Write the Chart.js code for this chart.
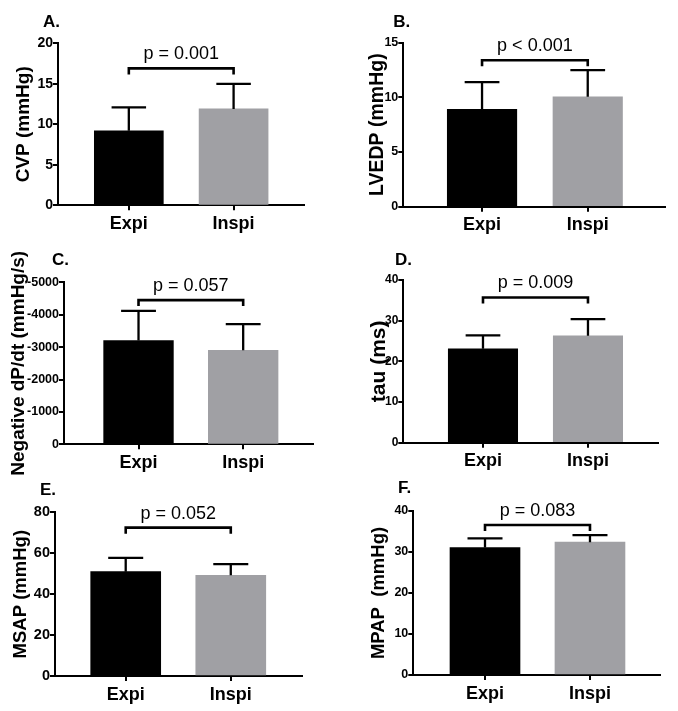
<!DOCTYPE html>
<html><head><meta charset="utf-8">
<script src="https://cdn.jsdelivr.net/npm/chart.js@4.4.1/dist/chart.umd.min.js"></script>
<style>
html,body{margin:0;padding:0;background:#fff;}
#wrap{position:relative;width:678px;height:711px;overflow:hidden;background:#fff;}
.panel{position:absolute;}
</style></head><body><div id="wrap"></div>
<script>
// ---- data ----
const categories = ['Expi', 'Inspi'];
const panelLetters = ['A.', 'B.', 'C.', 'D.', 'E.', 'F.'];
const yTitles = ['CVP (mmHg)', 'LVEDP (mmHg)', 'Negative dP/dt (mmHg/s)', 'tau (ms)', 'MSAP (mmHg)', 'MPAP  (mmHg)'];
const expiMeans  = [9.2, 8.9, -3200, 23.1, 51.0, 31.1];
const inspiMeans = [11.9, 10.05, -2900, 26.3, 49.2, 32.4];
const expiSD  = [2.9, 2.5, 920, 3.3, 6.7, 2.2];
const inspiSD = [3.1, 2.45, 810, 4.1, 5.5, 1.7];
const pLabels = ['p = 0.001', 'p < 0.001', 'p = 0.057', 'p = 0.009', 'p = 0.052', 'p = 0.083'];
const bracketLevels = [16.9, 13.4, -4450, 35.7, 72.5, 36.6];
const yMin  = [0, 0, -5000, 0, 0, 0];
const yMax  = [20, 15, 0, 40, 80, 40];
const yStep = [5, 5, 1000, 10, 20, 10];

// ---- layout / style ----
const FONT = "'Liberation Sans', Arial, Helvetica, sans-serif";
const barColors = ['#000000', '#a0a0a4'];
const layouts = [
  {x:0,   y:0,   w:340, h:240, left:58,   right:304,   top:43.3, bottom:205.3, xMin:-0.676, xMax:1.672, bar:69,   titleX:24,   titleSize:19,   tickSize:14,   letterX:43,   letterY:26.7},
  {x:340, y:0,   w:338, h:240, left:63.3, right:325,   top:42.7, bottom:206.7, xMin:-0.745, xMax:1.731, bar:69.5, titleX:38,   titleSize:19.5, tickSize:12.5, letterX:53.3, letterY:26.7},
  {x:0,   y:240, w:340, h:235, left:64,   right:313.3, top:42.3, bottom:204.3, xMin:-0.712, xMax:1.670, bar:69.7, titleX:19,   titleSize:19,   tickSize:12.5, letterX:52,   letterY:25},
  {x:340, y:240, w:338, h:235, left:63.3, right:318,   top:40,   bottom:202.7, xMin:-0.759, xMax:1.667, bar:69.4, titleX:39.6, titleSize:21,   tickSize:12,   letterX:55,   letterY:25},
  {x:0,   y:475, w:340, h:236, left:55,   right:301.7, top:37.3, bottom:201,   xMin:-0.673, xMax:1.675, bar:70,   titleX:21,   titleSize:18.5, tickSize:14.5, letterX:40,   letterY:20},
  {x:340, y:475, w:338, h:236, left:73.3, right:320,   top:36,   bottom:200,   xMin:-0.683, xMax:1.667, bar:70,   titleX:39,   titleSize:18.5, tickSize:12.5, letterX:58,   letterY:18.3}
];

const annot = {
  id: 'annot',
  afterDatasetsDraw(chart, args, opts) {
    const {ctx} = chart;
    const x = chart.scales.x, y = chart.scales.y;
    const i = opts.index;
    const L = layouts[i];
    const means = [expiMeans[i], inspiMeans[i]];
    const sds = [expiSD[i], inspiSD[i]];
    ctx.save();
    ctx.strokeStyle = '#000';
    ctx.lineWidth = 2.3;
    means.forEach((m, k) => {
      const cx = x.getPixelForValue(k);
      const topVal = m < 0 ? m - sds[k] : m + sds[k];
      const p0 = y.getPixelForValue(m), p1 = y.getPixelForValue(topVal);
      const half = L.bar / 4;
      ctx.beginPath();
      ctx.moveTo(cx, p0); ctx.lineTo(cx, p1);
      ctx.moveTo(cx - half, p1); ctx.lineTo(cx + half, p1);
      ctx.stroke();
    });
    const bx0 = x.getPixelForValue(0), bx1 = x.getPixelForValue(1);
    const by = y.getPixelForValue(bracketLevels[i]);
    ctx.lineWidth = 2.6;
    ctx.beginPath();
    ctx.moveTo(bx0, by + 6); ctx.lineTo(bx0, by); ctx.lineTo(bx1, by); ctx.lineTo(bx1, by + 6);
    ctx.stroke();
    ctx.fillStyle = '#000';
    ctx.font = `18px ${FONT}`;
    ctx.textAlign = 'center';
    ctx.textBaseline = 'alphabetic';
    ctx.fillText(pLabels[i], (bx0 + bx1) / 2, by - 9);
    ctx.font = `bold 17px ${FONT}`;
    ctx.textAlign = 'left';
    ctx.fillText(panelLetters[i], L.letterX, L.letterY);
    ctx.restore();
  }
};

const wrap = document.getElementById('wrap');
layouts.forEach((L, i) => {
  const c = document.createElement('canvas');
  c.width = L.w; c.height = L.h; c.className = 'panel';
  c.style.left = L.x + 'px'; c.style.top = L.y + 'px';
  c.style.width = L.w + 'px'; c.style.height = L.h + 'px';
  wrap.appendChild(c);
  const values = [expiMeans[i], inspiMeans[i]];
  new Chart(c, {
    type: 'bar',
    data: {
      datasets: [{
        data: categories.map((cat, k) => ({x: k, y: values[k]})),
        backgroundColor: barColors,
        borderWidth: 0,
        barThickness: L.bar
      }]
    },
    options: {
      responsive: false, animation: false, events: [],
      layout: {padding: {left: 0, top: L.top, right: L.w - L.right, bottom: 0}},
      plugins: {legend: {display: false}, tooltip: {enabled: false}, annot: {index: i}},
      scales: {
        x: {
          type: 'linear', min: L.xMin, max: L.xMax, offset: false,
          afterBuildTicks: s => { s.ticks = categories.map((cat, k) => ({value: k})); },
          afterFit: s => { s.height = L.h - L.bottom; },
          grid: {display: true, drawOnChartArea: false, drawTicks: true, tickLength: 5, color: '#000', lineWidth: 2, offset: false},
          border: {display: true, color: '#000', width: 2},
          ticks: {callback: v => categories[v], font: {family: FONT, size: 18, weight: 'bold'}, color: '#000', padding: 3, maxRotation: 0, autoSkip: false}
        },
        y: {
          min: yMin[i], max: yMax[i], reverse: yMin[i] < 0,
          ticks: {stepSize: yStep[i], callback: v => String(v), font: {family: FONT, size: L.tickSize, weight: 'bold'}, color: '#000', padding: 0},
          afterFit: s => { s.width = L.left; },
          grid: {drawOnChartArea: false, tickLength: 5, color: '#000', lineWidth: 2},
          border: {display: true, color: '#000', width: 2},
          title: {display: true, text: yTitles[i], color: '#000',
                  font: {family: FONT, size: L.titleSize, weight: 'bold', lineHeight: 1},
                  padding: {top: L.titleX - L.titleSize / 2, bottom: 0}}
        }
      }
    },
    plugins: [annot]
  });
});
</script>
</body></html>
